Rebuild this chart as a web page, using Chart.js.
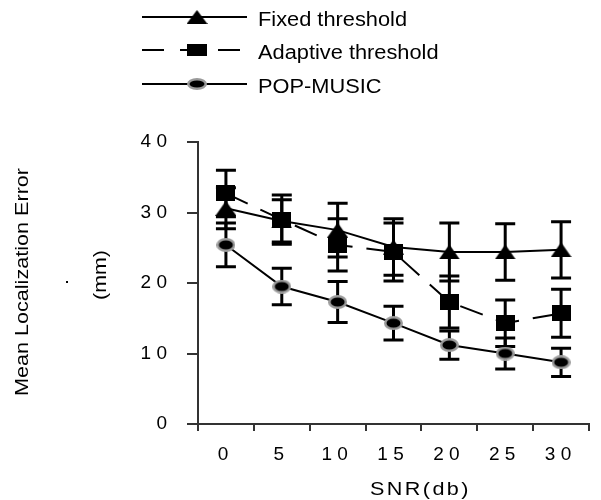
<!DOCTYPE html>
<html>
<head>
<meta charset="utf-8">
<script src="https://cdn.jsdelivr.net/npm/chart.js@4.4.1/dist/chart.umd.min.js"></script>
<style>
    html, body { margin: 0; padding: 0; background: #fff; }
    #wrap { width: 601px; height: 500px; }
</style>
</head>
<body>
<div id="wrap"><canvas id="snrChart" width="601" height="500"></canvas></div>
<script>
// data
const snrLabels = ['0', '5', '10', '15', '20', '25', '30'];
const yTicks = [0, 10, 20, 30, 40];

const fixedMean = [30.6, 28.8, 27.5, 25.1, 24.4, 24.4, 24.7];
const fixedErr = [2.9, 3.0, 3.8, 4.0, 4.1, 4.0, 4.0];

const adaptiveMean = [32.7, 29.0, 25.4, 24.4, 17.3, 14.3, 15.7];
const adaptiveErr = [3.3, 3.5, 3.7, 4.1, 3.7, 3.3, 3.4];

const popMean = [25.4, 19.5, 17.3, 14.3, 11.2, 10.0, 8.75];
const popErr = [3.1, 2.6, 2.9, 2.4, 2.0, 2.2, 2.0];

const seriesNames = ['Fixed threshold', 'Adaptive threshold', 'POP-MUSIC'];

const FONT = '"Liberation Sans", Arial, Helvetica, sans-serif';
const AXIS = '#333';

// small canvases used as point markers
function makeMarker(w, h, draw) {
    const c = document.createElement('canvas');
    c.width = w;
    c.height = h;
    draw(c.getContext('2d'), w, h);
    return c;
}

function triangle(w, h) {
    return makeMarker(w, h, (ctx) => {
        ctx.fillStyle = '#000';
        ctx.beginPath();
        ctx.moveTo(w / 2, 0);
        ctx.lineTo(w, h);
        ctx.lineTo(0, h);
        ctx.closePath();
        ctx.fill();
    });
}

function square(w, h) {
    return makeMarker(w, h, (ctx) => {
        ctx.fillStyle = '#000';
        ctx.fillRect(0, 0, w, h);
    });
}

function ellipse(w, h) {
    return makeMarker(w, h, (ctx) => {
        ctx.fillStyle = '#9a9a9a';
        ctx.beginPath();
        ctx.ellipse(w / 2, h / 2, w / 2, h / 2, 0, 0, Math.PI * 2);
        ctx.fill();
        ctx.fillStyle = '#000';
        ctx.beginPath();
        ctx.ellipse(w / 2, h / 2, w / 2 - 2.5, h / 2 - 2.5, 0, 0, Math.PI * 2);
        ctx.fill();
    });
}

const markers = [triangle(21, 15), square(19, 16), ellipse(19, 14)];
const legendMarkers = [triangle(21, 14), square(20, 12), ellipse(20, 12)];
const errors = [fixedErr, adaptiveErr, popErr];
const dashes = [[], [24, 14], []];

// error bars, drawn under the lines and markers
const errorBars = {
    id: 'errorBars',
    beforeDatasetsDraw(chart) {
        const ctx = chart.ctx;
        const yScale = chart.scales.y;
        ctx.save();
        ctx.strokeStyle = '#000';
        ctx.lineWidth = 3;
        chart.data.datasets.forEach((ds, i) => {
            const meta = chart.getDatasetMeta(i);
            meta.data.forEach((pt, j) => {
                const hi = yScale.getPixelForValue(ds.data[j] + errors[i][j]);
                const lo = yScale.getPixelForValue(ds.data[j] - errors[i][j]);
                ctx.beginPath();
                ctx.moveTo(pt.x, hi);
                ctx.lineTo(pt.x, lo);
                ctx.moveTo(pt.x - 10, hi);
                ctx.lineTo(pt.x + 10, hi);
                ctx.moveTo(pt.x - 10, lo);
                ctx.lineTo(pt.x + 10, lo);
                ctx.stroke();
            });
        });
        ctx.restore();
    }
};

// text in the source figure is a wide face, so stretch along the writing direction
function wideText(ctx, text, x, y, angle, stretch, align) {
    ctx.save();
    ctx.translate(x, y);
    ctx.rotate(angle);
    ctx.scale(stretch, 1);
    ctx.textAlign = align;
    ctx.fillText(text, 0, 0);
    ctx.restore();
}

// legend and axis titles
const extraText = {
    id: 'extraText',
    afterDraw(chart) {
        const ctx = chart.ctx;
        ctx.save();
        ctx.fillStyle = '#000';
        ctx.strokeStyle = '#000';
        ctx.textBaseline = 'alphabetic';

        // legend
        const rows = [17, 50, 84];
        rows.forEach((y, i) => {
            ctx.lineWidth = 2;
            ctx.setLineDash(i === 1 ? [22, 16] : []);
            ctx.beginPath();
            ctx.moveTo(142, y);
            ctx.lineTo(i === 1 ? 242 : 247, y);
            ctx.stroke();
            ctx.setLineDash([]);
            const m = legendMarkers[i];
            ctx.drawImage(m, 197 - m.width / 2, y - m.height / 2);
            ctx.font = '20px ' + FONT;
            wideText(ctx, seriesNames[i], 258, y + 9, 0, 1.09, 'left');
        });

        // y title
        ctx.font = '18px ' + FONT;
        wideText(ctx, 'Mean Localization Error', 28, 282, -Math.PI / 2, 1.2, 'center');
        wideText(ctx, '.', 68, 282, -Math.PI / 2, 1.2, 'center');
        wideText(ctx, '(mm)', 106, 275, -Math.PI / 2, 1.19, 'center');

        // x title, letter spaced
        ctx.letterSpacing = '2px';
        wideText(ctx, 'SNR(db)', 370, 495, 0, 1.2, 'left');
        ctx.restore();
    }
};

const spaced = (s) => String(s).split('').join(' ');

const ctx = document.getElementById('snrChart').getContext('2d');
const snrChart = new Chart(ctx, {
    type: 'line',
    data: {
        labels: snrLabels,
        datasets: [fixedMean, adaptiveMean, popMean].map((vals, i) => ({
            label: seriesNames[i],
            data: vals,
            borderColor: '#000',
            borderWidth: 2,
            borderDash: dashes[i],
            pointStyle: markers[i],
            pointRadius: 10,
            tension: 0,
            fill: false
        }))
    },
    options: {
        responsive: false,
        animation: false,
        devicePixelRatio: 1,
        layout: { padding: { top: 142, right: 12, left: 0, bottom: 0 } },
        plugins: {
            legend: { display: false },
            tooltip: { enabled: false }
        },
        scales: {
            x: {
                type: 'category',
                offset: true,
                grid: {
                    offset: true,
                    drawOnChartArea: false,
                    drawTicks: true,
                    tickLength: 7,
                    color: AXIS,
                    lineWidth: 2
                },
                border: { display: true, color: AXIS, width: 2 },
                ticks: {
                    color: '#000',
                    font: { family: FONT, size: 19 },
                    padding: 12,
                    labelOffset: -3,
                    maxRotation: 0,
                    callback: function (v) { return spaced(this.getLabelForValue(v)); }
                },
                afterFit: (scale) => { scale.height = 76; }
            },
            y: {
                min: yTicks[0],
                max: yTicks[yTicks.length - 1],
                afterBuildTicks: (scale) => { scale.ticks = yTicks.map(v => ({ value: v })); },
                grid: {
                    drawOnChartArea: false,
                    drawTicks: true,
                    tickLength: 11,
                    color: AXIS,
                    lineWidth: 2
                },
                border: { display: true, color: AXIS, width: 2 },
                ticks: {
                    color: '#000',
                    font: { family: FONT, size: 19 },
                    padding: 20,
                    callback: (v) => spaced(v)
                },
                afterFit: (scale) => { scale.width = 198; }
            }
        }
    },
    plugins: [errorBars, extraText]
});
</script>
</body>
</html>
